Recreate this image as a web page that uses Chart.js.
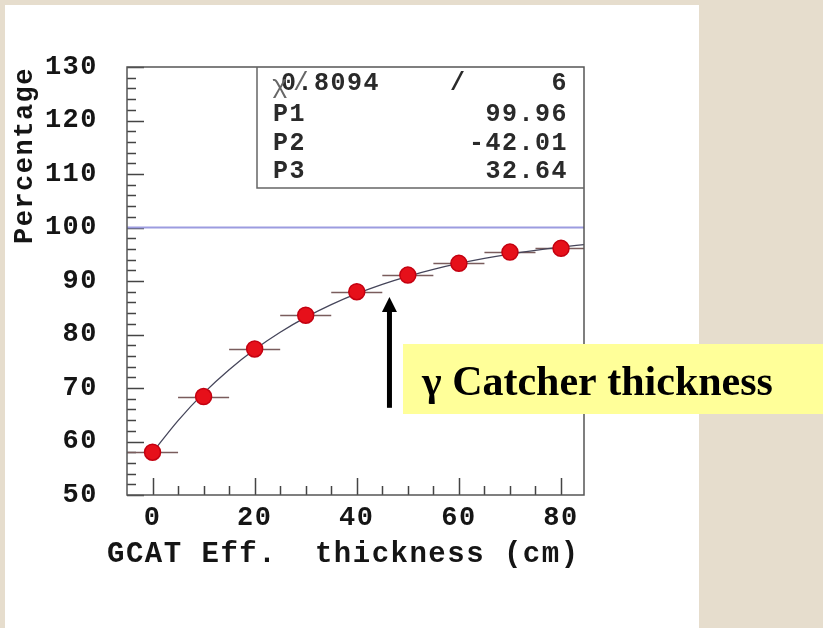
<!DOCTYPE html>
<html>
<head>
<meta charset="utf-8">
<script src="https://cdn.jsdelivr.net/npm/chart.js@4.4.1/dist/chart.umd.min.js"></script>
<style>
  html, body { margin: 0; padding: 0; background: #e6ddcd; }
  #wrap { width: 823px; height: 628px; }
</style>
</head>
<body>
<div id="wrap"><canvas id="myChart" width="823" height="628"></canvas></div>
<script>
'use strict';

// measured points (GCAT efficiency vs thickness)
var thickness = [0, 10, 20, 30, 40, 50, 60, 70, 80];
var percentage = [58.0, 68.4, 77.3, 83.6, 88.0, 91.1, 93.3, 95.4, 96.1];
var thicknessErr = [5, 5, 5, 5, 5, 5, 5, 5, 5];

// fitted curve
var fitX = [0, 5, 10, 15, 20, 25, 30, 35, 40, 45, 50, 55, 60, 65, 70, 75, 80, 84.5];
var fitY = [57.95, 63.91, 69.04, 73.43, 77.19, 80.43, 83.20, 85.58, 87.63, 89.38,
            90.88, 92.17, 93.28, 94.23, 95.04, 95.74, 96.34, 96.80];

var refLevel = 100;

var xTicks = [0, 20, 40, 60, 80];
var yTicks = [50, 60, 70, 80, 90, 100, 110, 120, 130];
var xTitle = 'GCAT Eff.  thickness (cm)';

// fit statistics box
var statNames = ['', 'P1', 'P2', 'P3'];
var statValues = ['6', '99.96', '-42.01', '32.64'];
var chiValue = '0.8094';

var labelText = '\u03b3 Catcher thickness';
var arrowAt = { x: 46.4, tip: 87.0, base: 66.3 };

var MONO = "'Liberation Mono', 'DejaVu Sans Mono', monospace";

var points = thickness.map(function (t, i) { return { x: t, y: percentage[i] }; });
var curve = fitX.map(function (t, i) { return { x: t, y: fitY[i] }; });

var gcatPlugin = {
  id: 'gcat',
  beforeDraw: function (chart) {
    var ctx = chart.ctx;
    ctx.save();
    ctx.fillStyle = '#ffffff';
    ctx.fillRect(5, 5, 694, 623);
    ctx.restore();
    ctx.letterSpacing = '1.5px';
  },
  beforeDatasetsDraw: function (chart) {
    var ctx = chart.ctx, a = chart.chartArea;
    var xs = chart.scales.x, ys = chart.scales.y;
    var v, p;
    ctx.save();
    ctx.strokeStyle = '#444';
    ctx.lineWidth = 1.5;
    ctx.beginPath();
    // y ticks inward, every 2
    for (v = 50; v <= 130; v += 2) {
      p = Math.round(ys.getPixelForValue(v)) + 0.5;
      ctx.moveTo(a.left, p);
      ctx.lineTo(a.left + (v % 10 === 0 ? 17 : 9), p);
    }
    // x ticks inward, every 5
    for (v = 0; v <= 80; v += 5) {
      p = Math.round(xs.getPixelForValue(v)) + 0.5;
      ctx.moveTo(p, a.bottom);
      ctx.lineTo(p, a.bottom - (v % 20 === 0 ? 17 : 9));
    }
    ctx.stroke();

    // horizontal error bars
    ctx.strokeStyle = '#7a5c5c';
    ctx.lineWidth = 1.5;
    ctx.beginPath();
    for (var i = 0; i < thickness.length; i++) {
      var y = Math.round(ys.getPixelForValue(percentage[i])) + 0.5;
      ctx.moveTo(xs.getPixelForValue(thickness[i] - thicknessErr[i]), y);
      ctx.lineTo(Math.min(a.right, xs.getPixelForValue(thickness[i] + thicknessErr[i])), y);
    }
    ctx.stroke();
    ctx.restore();
  },
  afterDraw: function (chart) {
    var ctx = chart.ctx, a = chart.chartArea;
    var xs = chart.scales.x, ys = chart.scales.y;
    ctx.save();

    // plot frame
    ctx.strokeStyle = '#555';
    ctx.lineWidth = 1.5;
    ctx.strokeRect(a.left, a.top, a.right - a.left, a.bottom - a.top);

    // x axis title
    ctx.fillStyle = '#151515';
    ctx.font = 'bold 29px ' + MONO;
    ctx.letterSpacing = '1.5px';
    ctx.textAlign = 'left';
    ctx.textBaseline = 'alphabetic';
    ctx.fillText(xTitle, 107, 562);

    // stats box
    var bl = 257, bb = 188;
    ctx.strokeStyle = '#666';
    ctx.beginPath();
    ctx.moveTo(bl, a.top);
    ctx.lineTo(bl, bb);
    ctx.lineTo(a.right, bb);
    ctx.stroke();

    var rows = [90, 121, 150, 178];
    ctx.fillStyle = '#2a2a2a';
    ctx.font = 'bold 25px ' + MONO;
    for (var r = 0; r < rows.length; r++) {
      ctx.textAlign = 'left';
      if (statNames[r]) ctx.fillText(statNames[r], 273, rows[r]);
      ctx.textAlign = 'right';
      ctx.fillText(statValues[r], 568, rows[r]);
    }
    ctx.textAlign = 'left';
    ctx.fillText(chiValue, 281, rows[0]);
    ctx.fillText('/', 450, rows[0]);
    ctx.fillStyle = '#666';
    ctx.font = '26px ' + MONO;
    ctx.fillText('\u03c7', 272, rows[0] + 3);
    ctx.fillText('/', 293, rows[0]);

    // arrow
    var ax = xs.getPixelForValue(arrowAt.x);
    var tip = ys.getPixelForValue(arrowAt.tip);
    var base = ys.getPixelForValue(arrowAt.base);
    ctx.fillStyle = '#000';
    ctx.fillRect(ax - 2.5, tip + 12, 5, base - tip - 12);
    ctx.beginPath();
    ctx.moveTo(ax, tip);
    ctx.lineTo(ax - 7.5, tip + 15);
    ctx.lineTo(ax + 7.5, tip + 15);
    ctx.closePath();
    ctx.fill();

    // yellow label
    ctx.fillStyle = '#ffff99';
    ctx.fillRect(403, 344, 420, 70);
    ctx.fillStyle = '#000';
    ctx.letterSpacing = '0px';
    ctx.font = "bold 42px 'Liberation Serif', 'DejaVu Serif', serif";
    ctx.textAlign = 'left';
    ctx.fillText(labelText, 422, 395);
    ctx.restore();
  }
};

var ctx = document.getElementById('myChart');

var chart = new Chart(ctx, {
  type: 'line',
  data: {
    datasets: [
      {
        label: 'Measured',
        data: points,
        showLine: false,
        pointRadius: 8,
        pointHoverRadius: 8,
        pointBackgroundColor: '#e6101a',
        pointBorderColor: '#c40010',
        pointBorderWidth: 1.5
      },
      {
        label: 'Fit',
        data: curve,
        borderColor: '#45455a',
        borderWidth: 1.3,
        pointRadius: 0,
        cubicInterpolationMode: 'monotone',
        fill: false
      },
      {
        label: 'Reference',
        data: [{ x: -5, y: refLevel }, { x: 84.5, y: refLevel }],
        borderColor: '#9c9ce0',
        borderWidth: 2,
        pointRadius: 0,
        fill: false
      }
    ]
  },
  options: {
    responsive: false,
    animation: false,
    events: [],
    layout: { padding: { top: 67, right: 239, bottom: 0, left: 0 } },
    plugins: { legend: { display: false }, tooltip: { enabled: false } },
    scales: {
      x: {
        type: 'linear',
        min: -5,
        max: 84.5,
        afterBuildTicks: function (s) { s.ticks = xTicks.map(function (v) { return { value: v }; }); },
        afterFit: function (s) { s.height = 133; },
        grid: { display: false, drawTicks: false },
        border: { display: false },
        ticks: {
          padding: 7,
          maxRotation: 0,
          color: '#151515',
          font: { family: MONO, weight: 'bold', size: 27 }
        },
        title: { display: false }
      },
      y: {
        min: 50,
        max: 130,
        afterBuildTicks: function (s) { s.ticks = yTicks.map(function (v) { return { value: v }; }); },
        afterFit: function (s) { s.width = 127; },
        grid: { display: false, drawTicks: false },
        border: { display: false },
        ticks: {
          padding: 29,
          color: '#151515',
          font: { family: MONO, weight: 'bold', size: 27 }
        },
        title: {
          display: true,
          text: 'Percentage',
          align: 'end',
          color: '#151515',
          padding: { top: 9, bottom: 0 },
          font: { family: MONO, weight: 'bold', size: 27 }
        }
      }
    }
  },
  plugins: [gcatPlugin]
});
</script>
</body>
</html>
